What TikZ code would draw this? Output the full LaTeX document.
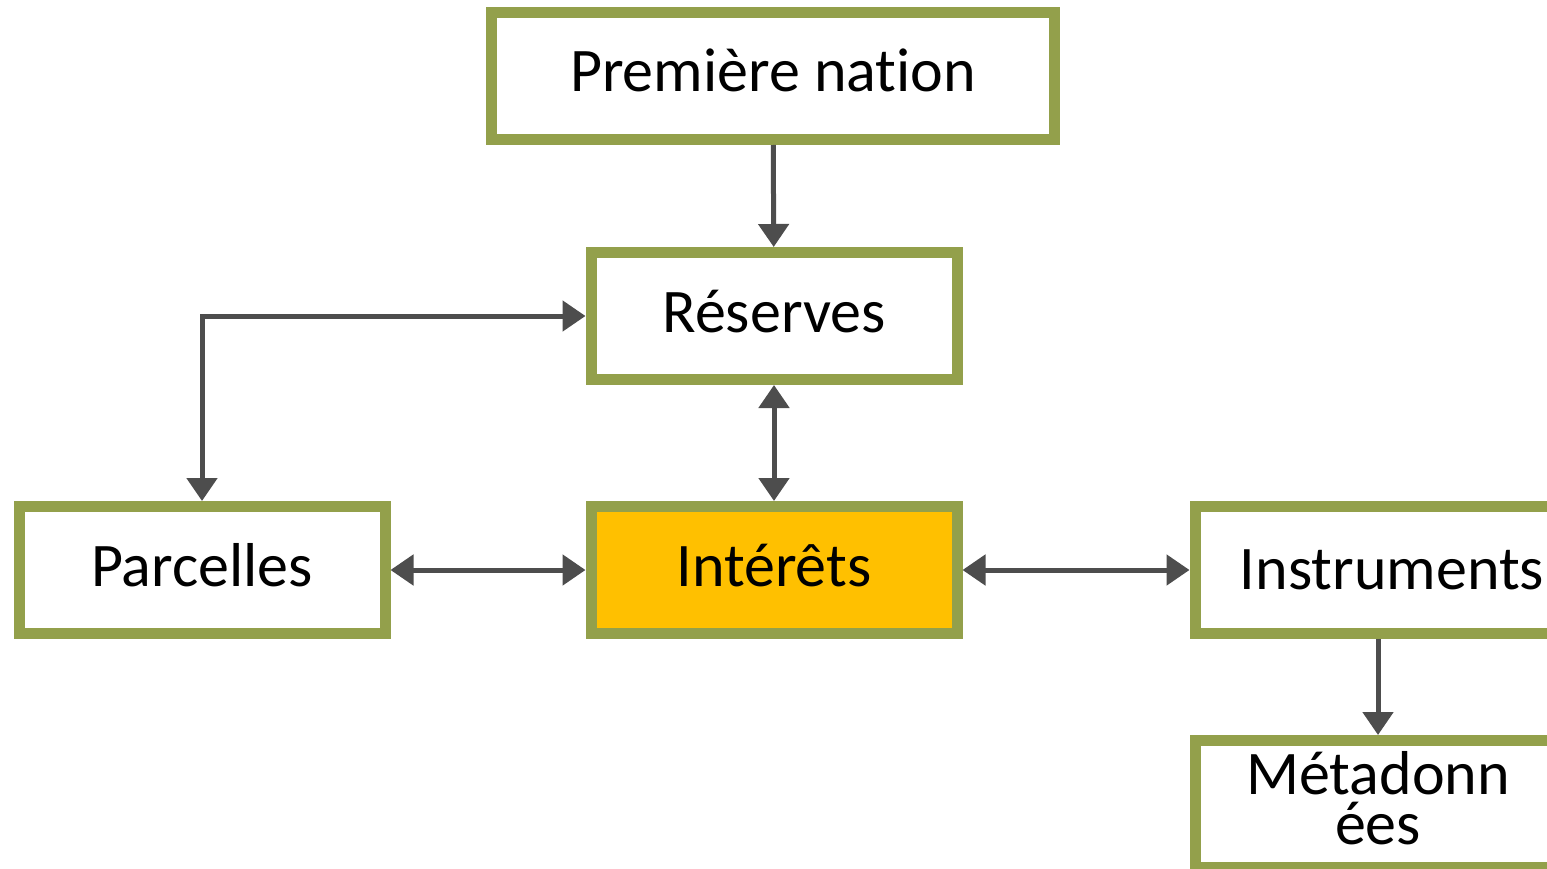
\documentclass[tikz,border=0pt]{standalone}
\usepackage{fontspec}
\setmainfont{Carlito}[Ligatures=NoCommon]
\usetikzlibrary{arrows.meta}
\definecolor{olive}{HTML}{93A04B}
\definecolor{amber}{HTML}{FFC000}
\definecolor{arrowgray}{HTML}{4D4D4D}
\begin{document}
\begin{tikzpicture}[x=1pt,y=-1pt,
main node/.style={rectangle,draw=olive,line width=11pt,fill=white,minimum width=366pt,minimum height=127pt,inner sep=0pt,font=\fontsize{62}{50}\selectfont,align=center},
one line/.style={text height=45pt,text depth=13pt},
link/.style={draw=arrowgray,line width=5pt,-{Triangle[length=23pt,width=30pt]}},
both link/.style={link,{Triangle[length=23pt,width=30pt]}-{Triangle[length=23pt,width=30pt]}}]
\useasboundingbox (0,0) rectangle (1547,869);
\clip (0,0) rectangle (1547,869);
\node[main node,one line,minimum width=563pt] (nation) at (773,76) {Première nation};
\node[main node,one line] (res) at (774,316) {Réserves};
\node[main node,one line] (parc) at (202,570) {Parcelles};
\node[main node,one line,fill=amber] (int) at (774,570) {Intérêts};
\node[main node,minimum width=394pt] (inst) at (1392,570) {Instruments};
\node[main node] (meta) at (1378,804) {Métadonn\\ées\\[-38pt]};

\draw [link] (nation) -- (res);
\draw [both link] (res.west) -| (parc.north);
\draw [both link] (res) -- (int);
\draw [both link] (parc) -- (int);
\draw [both link] (int) -- (inst);
\draw [link] (inst.south -| meta.north) -- (meta.north);
\end{tikzpicture}
\end{document}
